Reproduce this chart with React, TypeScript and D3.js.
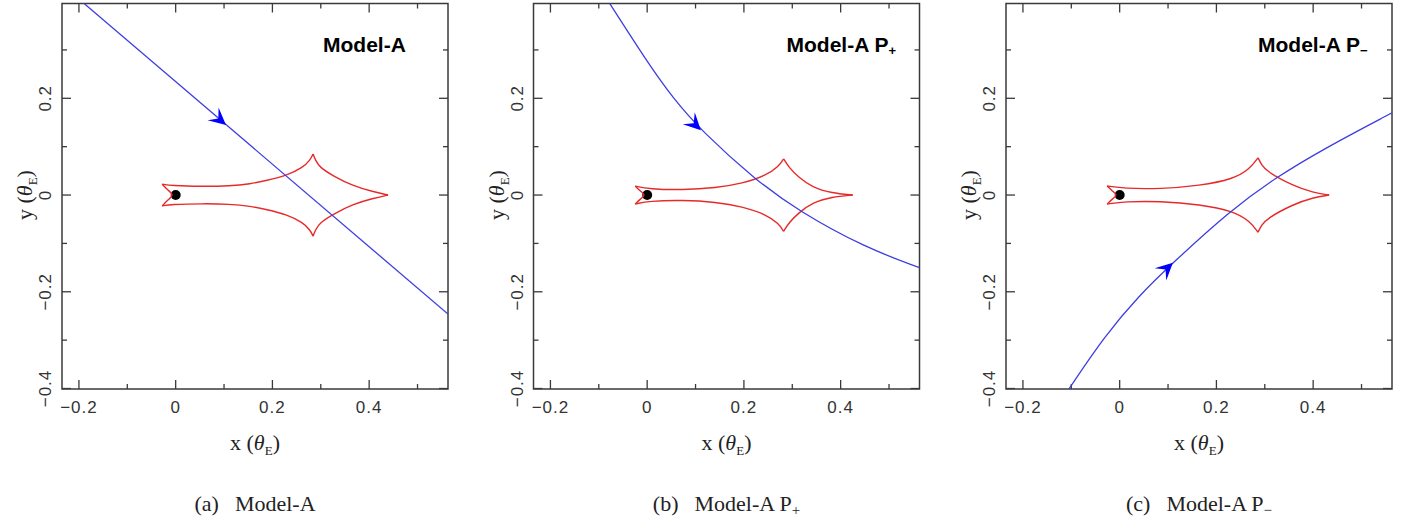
import React from "react";
import * as d3 from "d3";

const width = 1412;
const height = 521;
const frameSize = 386;
const frameLefts = [62, 533.5, 1006];
const frameTop = 3.5;
const frameBottom = 389;

const xDomain = [-0.235, 0.563];
const yDomain = [-0.401, 0.396];
const xMajor = [-0.2, 0, 0.2, 0.4];
const xMinor = [-0.1, 0.1, 0.3, 0.5];
const yMajor = [-0.4, -0.2, 0, 0.2];
const yMinor = [-0.3, -0.1, 0.1, 0.3];
const xTickLabels = ["\u22120.2", "0", "0.2", "0.4"];
const yTickLabels = ["\u22120.4", "\u22120.2", "0", "0.2"];

// caustic pieces, each one runs cusp to cusp
const causticA = [
  [[-0.028, 0.0225], [-0.016, 0.01], [-0.0035, 0], [-0.016, -0.01], [-0.028, -0.0225]],
  [[-0.028, 0.0225], [-0.01, 0.0195], [0.056, 0.0177], [0.111, 0.0187], [0.155, 0.023], [0.1875, 0.03], [0.229, 0.04], [0.263, 0.057], [0.278, 0.072], [0.284, 0.085]],
  [[0.284, 0.085], [0.289, 0.072], [0.298, 0.057], [0.325, 0.04], [0.366, 0.019], [0.408, 0.0069], [0.439, 0]],
  [[0.439, 0], [0.408, -0.0069], [0.366, -0.019], [0.325, -0.04], [0.298, -0.057], [0.289, -0.072], [0.284, -0.085]],
  [[0.284, -0.085], [0.278, -0.072], [0.263, -0.057], [0.229, -0.04], [0.1875, -0.03], [0.155, -0.023], [0.111, -0.0187], [0.056, -0.0177], [-0.01, -0.0195], [-0.028, -0.0225]],
];
const causticPplus = [
  [[-0.0247, 0.0185], [-0.014, 0.008], [-0.003, 0], [-0.014, -0.008], [-0.0247, -0.0185]],
  [[-0.0247, 0.0185], [0.004, 0.0124], [0.073, 0.0104], [0.142, 0.0146], [0.197, 0.024], [0.245, 0.04], [0.272, 0.059], [0.282, 0.075]],
  [[0.282, 0.075], [0.293, 0.057], [0.313, 0.037], [0.341, 0.016], [0.382, 0.0037], [0.425, 0]],
  [[0.425, 0], [0.382, -0.0037], [0.341, -0.016], [0.313, -0.037], [0.293, -0.057], [0.282, -0.075]],
  [[0.282, -0.075], [0.272, -0.059], [0.245, -0.04], [0.197, -0.024], [0.142, -0.0146], [0.073, -0.0104], [0.004, -0.0124], [-0.0247, -0.0185]],
];
const causticPminus = [
  [[-0.026, 0.0187], [-0.015, 0.008], [-0.004, 0], [-0.015, -0.008], [-0.026, -0.0187]],
  [[-0.026, 0.0187], [0.01, 0.0135], [0.083, 0.0125], [0.166, 0.0194], [0.235, 0.033], [0.269, 0.054], [0.286, 0.077]],
  [[0.286, 0.077], [0.293, 0.063], [0.304, 0.0486], [0.359, 0.019], [0.4, 0.0052], [0.433, 0]],
  [[0.433, 0], [0.4, -0.0052], [0.359, -0.019], [0.304, -0.0486], [0.293, -0.063], [0.286, -0.077]],
  [[0.286, -0.077], [0.269, -0.054], [0.235, -0.033], [0.166, -0.0194], [0.083, -0.0125], [0.01, -0.0135], [-0.026, -0.0187]],
];

// source trajectories
const trajA = [[-0.194, 0.4], [0.563, -0.246]];
const trajPplus = [[-0.08, 0.4], [0.0, 0.275], [0.055, 0.198], [0.111, 0.134], [0.224, 0.031], [0.313, -0.033], [0.451, -0.109], [0.563, -0.15]];
const trajPminus = [[-0.105, -0.401], [-0.03, -0.29], [0.04, -0.208], [0.11, -0.14], [0.228, -0.0327], [0.321, 0.0353], [0.428, 0.099], [0.563, 0.17]];

// arrow tips on the trajectories
const arrowA = [0.104, 0.145];
const arrowPplus = [0.111, 0.134];
const arrowPminus = [0.11, -0.14];

const lensPos = [0, 0];

const panels = [
  { key: "a", title: "Model-A", sub: "", titleX: 261, caption: "(a)", caustic: causticA, traj: trajA, arrow: arrowA },
  { key: "b", title: "Model-A P", sub: "+", titleX: 253, caption: "(b)", caustic: causticPplus, traj: trajPplus, arrow: arrowPplus },
  { key: "c", title: "Model-A P", sub: "\u2212", titleX: 252, caption: "(c)", caustic: causticPminus, traj: trajPminus, arrow: arrowPminus },
];

const tickFont = "'Liberation Sans', Arial, sans-serif";
const serif = "'Liberation Serif', 'Times New Roman', serif";
const axisColor = "#3a3a3a";

function Panel({ p, left }) {
  const x = d3.scaleLinear().domain(xDomain).range([left, left + frameSize]);
  const y = d3.scaleLinear().domain(yDomain).range([frameBottom, frameTop]);
  const right = left + frameSize;
  const cx = left + frameSize / 2;

  const causticLine = d3
    .line()
    .x(d => x(d[0]))
    .y(d => y(d[1]))
    .curve(d3.curveBasis);
  const trajLine = d3
    .line()
    .x(d => x(d[0]))
    .y(d => y(d[1]))
    .curve(d3.curveBasis);

  // arrow direction from the trajectory near the tip
  let best = 0;
  p.traj.forEach((d, i) => {
    const b = p.traj[best];
    if (Math.hypot(d[0] - p.arrow[0], d[1] - p.arrow[1]) < Math.hypot(b[0] - p.arrow[0], b[1] - p.arrow[1])) best = i;
  });
  const i0 = Math.max(0, best - 1);
  const i1 = Math.min(p.traj.length - 1, best + 1);
  const ang =
    (Math.atan2(y(p.traj[i1][1]) - y(p.traj[i0][1]), x(p.traj[i1][0]) - x(p.traj[i0][0])) * 180) / Math.PI;

  const clipId = `clip-${p.key}`;
  const majorLen = 9;
  const minorLen = 5;

  return (
    <g>
      <defs>
        <clipPath id={clipId}>
          <rect x={left} y={frameTop} width={frameSize} height={frameBottom - frameTop} />
        </clipPath>
      </defs>

      {/* ticks, all four sides, pointing in */}
      <g stroke={axisColor} strokeWidth={1.3}>
        {xMajor.map(t => (
          <g key={"xM" + t}>
            <line x1={x(t)} x2={x(t)} y1={frameBottom} y2={frameBottom - majorLen} />
            <line x1={x(t)} x2={x(t)} y1={frameTop} y2={frameTop + majorLen} />
          </g>
        ))}
        {xMinor.map(t => (
          <g key={"xm" + t}>
            <line x1={x(t)} x2={x(t)} y1={frameBottom} y2={frameBottom - minorLen} />
            <line x1={x(t)} x2={x(t)} y1={frameTop} y2={frameTop + minorLen} />
          </g>
        ))}
        {yMajor.map(t => (
          <g key={"yM" + t}>
            <line x1={left} x2={left + majorLen} y1={y(t)} y2={y(t)} />
            <line x1={right} x2={right - majorLen} y1={y(t)} y2={y(t)} />
          </g>
        ))}
        {yMinor.map(t => (
          <g key={"ym" + t}>
            <line x1={left} x2={left + minorLen} y1={y(t)} y2={y(t)} />
            <line x1={right} x2={right - minorLen} y1={y(t)} y2={y(t)} />
          </g>
        ))}
      </g>
      <rect
        x={left}
        y={frameTop}
        width={frameSize}
        height={frameBottom - frameTop}
        fill="none"
        stroke={axisColor}
        strokeWidth={1.5}
      />

      {/* tick labels */}
      <g fontFamily={tickFont} fontSize={17} fill="#333" letterSpacing={1}>
        {xMajor.map((t, i) => (
          <text key={"xl" + t} x={x(t)} y={413} textAnchor="middle">
            {xTickLabels[i]}
          </text>
        ))}
        {yMajor.map((t, i) => (
          <text key={"yl" + t} transform={`translate(${left - 11},${y(t)}) rotate(-90)`} textAnchor="middle">
            {yTickLabels[i]}
          </text>
        ))}
      </g>

      {/* axis labels */}
      <text x={cx} y={450} textAnchor="middle" fontFamily={serif} fontSize={22} fill="#222">
        x (<tspan fontStyle="italic">θ</tspan>
        <tspan fontSize={13} dy={5}>E</tspan>
        <tspan dy={-5}>)</tspan>
      </text>
      <text
        transform={`translate(${left - 30},${y(0)}) rotate(-90)`}
        textAnchor="middle"
        fontFamily={serif}
        fontSize={22}
        fill="#222"
      >
        y (<tspan fontStyle="italic">θ</tspan>
        <tspan fontSize={13} dy={5}>E</tspan>
        <tspan dy={-5}>)</tspan>
      </text>

      {/* lens and caustic */}
      <circle cx={x(lensPos[0])} cy={y(lensPos[1])} r={5} fill="#000" />
      <g fill="none" stroke="#e62a2a" strokeWidth={1.4}>
        {p.caustic.map((seg, i) => (
          <path key={i} d={causticLine(seg)} />
        ))}
      </g>

      {/* trajectory */}
      <g clipPath={`url(#${clipId})`}>
        <path d={trajLine(p.traj)} fill="none" stroke="#3e3ee0" strokeWidth={1.3} />
      </g>
      <path
        d="M0,0 L-17,-8.5 L-10,0 L-17,8.5 Z"
        fill="#0000ff"
        transform={`translate(${x(p.arrow[0])},${y(p.arrow[1])}) rotate(${ang})`}
      />

      {/* title */}
      <text x={left + p.titleX} y={52} fontFamily={tickFont} fontWeight="bold" fontSize={21} fill="#000">
        {p.title}
        {p.sub && (
          <tspan fontSize={13} dy={3}>
            {p.sub}
          </tspan>
        )}
      </text>

      {/* caption */}
      <text x={cx} y={511} textAnchor="middle" fontFamily={serif} fontSize={22} fill="#222">
        {p.caption}
        <tspan dx={16}>{p.title}</tspan>
        {p.sub && (
          <tspan fontSize={15} dy={4}>
            {p.sub}
          </tspan>
        )}
      </text>
    </g>
  );
}

export default function App() {
  return (
    <svg
      width={width}
      height={height}
      style={{ position: "absolute", left: 0, top: 0, background: "#fff" }}
    >
      <rect width={width} height={height} fill="#fff" />
      {panels.map((p, i) => (
        <Panel key={p.key} p={p} left={frameLefts[i]} />
      ))}
    </svg>
  );
}
